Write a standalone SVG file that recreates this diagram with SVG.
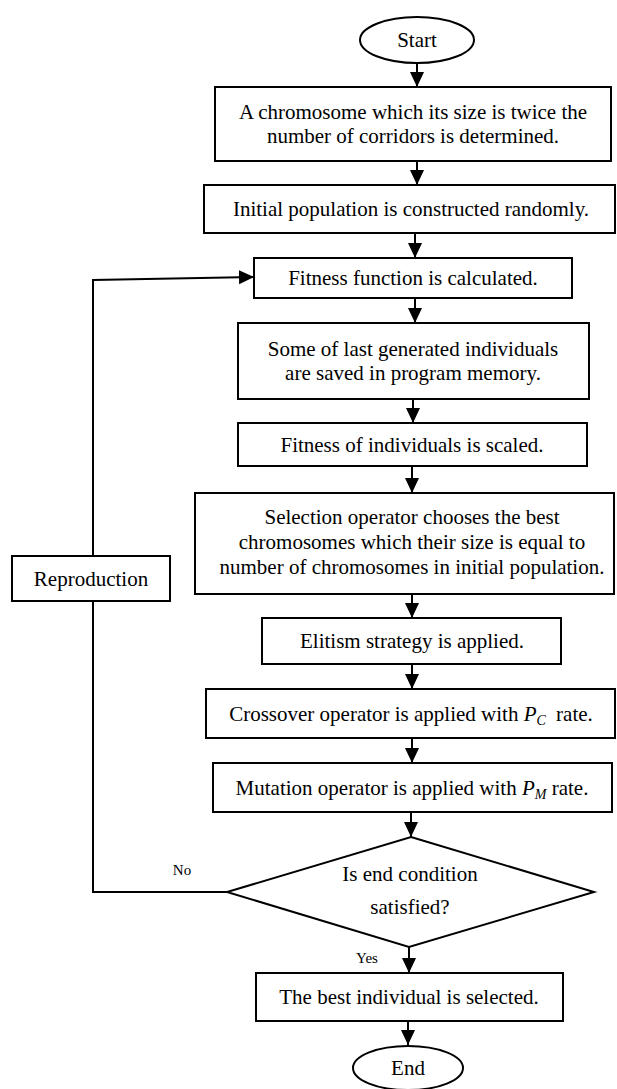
<svg xmlns="http://www.w3.org/2000/svg" width="617" height="1089" viewBox="0 0 617 1089">
<style>
  .n { fill: #fff; stroke: #000; stroke-width: 2; }
  .t { font-size: 21px; fill: #000; text-anchor: middle; }
  .s { font-size: 15px; fill: #000; text-anchor: middle; }
  .c { fill: none; stroke: #000; stroke-width: 2; }
  .i { font-style: italic; }
</style>
<defs>
  <marker id="ah" markerUnits="userSpaceOnUse" markerWidth="16" markerHeight="16" viewBox="0 0 16 16" refX="15" refY="8" orient="auto">
    <path d="M0,1 L15,8 L0,15 Z" fill="#000"/>
  </marker>
</defs>
<g font-family="Liberation Serif, Tinos, DejaVu Serif, serif">
<g id="connectors">
  <line class="c" x1="417" y1="63" x2="417" y2="87" marker-end="url(#ah)"/>
  <line class="c" x1="417" y1="161" x2="417" y2="185" marker-end="url(#ah)"/>
  <line class="c" x1="415" y1="233" x2="415" y2="258" marker-end="url(#ah)"/>
  <line class="c" x1="415" y1="298" x2="415" y2="323" marker-end="url(#ah)"/>
  <line class="c" x1="413" y1="399" x2="413" y2="423" marker-end="url(#ah)"/>
  <line class="c" x1="412" y1="466" x2="412" y2="493" marker-end="url(#ah)"/>
  <line class="c" x1="412" y1="594" x2="412" y2="618" marker-end="url(#ah)"/>
  <line class="c" x1="412" y1="664" x2="412" y2="689" marker-end="url(#ah)"/>
  <line class="c" x1="412" y1="738" x2="412" y2="763" marker-end="url(#ah)"/>
  <line class="c" x1="411" y1="812" x2="411" y2="837" marker-end="url(#ah)"/>
  <line class="c" x1="409" y1="947" x2="409" y2="973" marker-end="url(#ah)"/>
  <line class="c" x1="408" y1="1021" x2="408" y2="1045" marker-end="url(#ah)"/>
  <polyline class="c" points="227,892 93,892 93,280 254,277" marker-end="url(#ah)"/>
  <text class="s" x="182" y="875">No</text>
  <text class="s" x="367" y="963">Yes</text>
</g>
<g id="start">
  <ellipse class="n" cx="417" cy="40" rx="57" ry="23"/>
  <text class="t" x="417" y="47">Start</text>
</g>
<g id="chromosome">
  <rect class="n" x="215" y="87" width="396" height="74"/>
  <text class="t" x="413" y="119">A chromosome which its size is twice the</text>
  <text class="t" x="413" y="143">number of corridors is determined.</text>
</g>
<g id="initial">
  <rect class="n" x="204" y="185" width="411" height="48"/>
  <text class="t" x="411" y="216">Initial population is constructed randomly.</text>
</g>
<g id="fitness">
  <rect class="n" x="254" y="258" width="318" height="40"/>
  <text class="t" x="413" y="285">Fitness function is calculated.</text>
</g>
<g id="saved">
  <rect class="n" x="238" y="323" width="351" height="76"/>
  <text class="t" x="413" y="356">Some of last generated individuals</text>
  <text class="t" x="413" y="380">are saved in program memory.</text>
</g>
<g id="scaled">
  <rect class="n" x="238" y="423" width="349" height="43"/>
  <text class="t" x="412" y="452">Fitness of individuals is scaled.</text>
</g>
<g id="selection">
  <rect class="n" x="195" y="493" width="419" height="101"/>
  <text class="t" x="412" y="524">Selection operator chooses the best</text>
  <text class="t" x="412" y="549">chromosomes which their size is equal to</text>
  <text class="t" x="412" y="574">number of chromosomes in initial population.</text>
</g>
<g id="elitism">
  <rect class="n" x="262" y="618" width="299" height="46"/>
  <text class="t" x="412" y="648">Elitism strategy is applied.</text>
</g>
<g id="crossover">
  <rect class="n" x="206" y="689" width="409" height="49"/>
  <text class="t" x="411" y="721">Crossover operator is applied with <tspan class="i">P</tspan><tspan class="i" font-size="14" dy="4">C</tspan><tspan dy="-4" dx="5"> rate.</tspan></text>
</g>
<g id="mutation">
  <rect class="n" x="213" y="763" width="399" height="49"/>
  <text class="t" x="412" y="795">Mutation operator is applied with <tspan class="i">P</tspan><tspan class="i" font-size="14" dy="4">M</tspan><tspan dy="-4"> rate.</tspan></text>
</g>
<g id="decision">
  <polygon class="n" points="411,837 594,892 409,947 227,892"/>
  <text class="t" x="410" y="881">Is end condition</text>
  <text class="t" x="410" y="914">satisfied?</text>
</g>
<g id="reproduction">
  <rect class="n" x="12" y="556" width="158" height="45"/>
  <text class="t" x="91" y="586">Reproduction</text>
</g>
<g id="best">
  <rect class="n" x="256" y="973" width="307" height="48"/>
  <text class="t" x="409" y="1004">The best individual is selected.</text>
</g>
<g id="end">
  <ellipse class="n" cx="408" cy="1068" rx="55" ry="22"/>
  <text class="t" x="408" y="1075">End</text>
</g>
</g>
</svg>
